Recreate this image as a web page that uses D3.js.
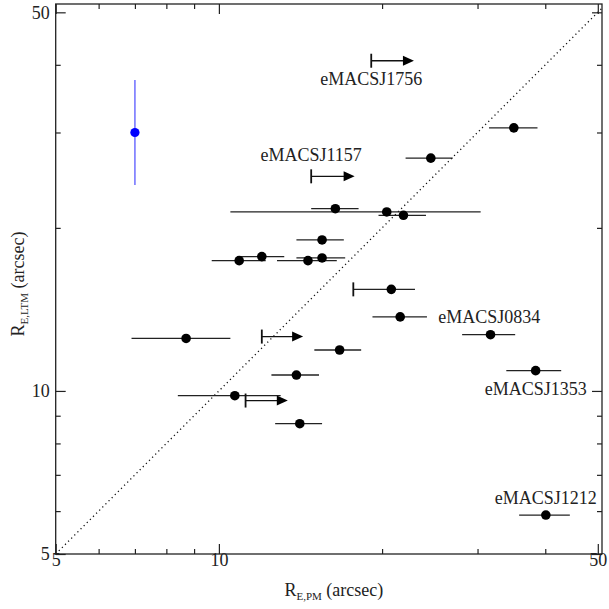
<!DOCTYPE html>
<html>
<head>
<meta charset="utf-8">
<script src="https://cdn.jsdelivr.net/npm/d3@7"></script>
<style>
  body { margin: 0; background: #fff; }
  svg text { font-family: "Liberation Serif", "DejaVu Serif", serif; fill: #222; }
</style>
</head>
<body>
<div class="chart"></div>
<script>
"use strict";
// measured points with horizontal error bars (arcsec)
var pmX  = [35.0, 24.6, 16.4, 20.4, 21.9, 15.5, 12.0, 10.9, 14.6, 15.5, 21.6, 31.7, 38.4, 16.7, 8.7, 13.9, 10.7, 14.1, 40.1];
var ltmY = [30.6, 26.9, 21.7, 21.4, 21.1, 19.0, 17.7, 17.4, 17.4, 17.6, 13.7, 12.7, 10.9, 11.9, 12.5, 10.7, 9.8, 8.7, 5.9];
var pmLo = [31.5, 22.1, 14.8, 10.5, 19.7, 13.9, 10.9, 9.7, 12.8, 13.9, 19.2, 28.1, 33.9, 15.0, 6.9, 12.5, 8.4, 12.7, 35.8];
var pmHi = [38.7, 27.0, 18.1, 30.4, 24.1, 17.0, 13.2, 12.2, 16.5, 17.1, 24.2, 35.2, 42.8, 18.3, 10.5, 15.3, 13.0, 15.5, 44.4];

// point sitting on a lower-limit bar
var capPt = {x: 20.8, y: 15.4, lo: 17.7, hi: 23.0};

// lower limits on R_E,PM (arrows)
var limX   = [19.1, 14.8, 12.0, 11.2];
var limEnd = [22.9, 17.8, 14.3, 13.4];
var limY   = [40.7, 24.9, 12.6, 9.6];

// reference point (blue), vertical error bar
var bluePt = {x: 7.0, y: 30.0, lo: 24.0, hi: 37.5};

// cluster names and the data point they annotate
var labelNames = ["eMACSJ1756", "eMACSJ1157", "eMACSJ0834", "eMACSJ1353", "eMACSJ1212"];
var labelAtX   = [19.1, 14.8, 21.6, 38.4, 40.1];
var labelAtY   = [40.7, 24.9, 13.7, 10.9, 5.9];

var majorTicks = [5, 10, 50];
var minorTicks = [6, 7, 8, 9, 20, 30, 40];

var W = 609, H = 609;
var margin = {top: 4, right: 7, bottom: 55, left: 55.7};
var width = W - margin.left - margin.right,
    height = H - margin.top - margin.bottom;

var x = d3.scaleLog().domain([5, 50.9]).range([0, width]);
var y = d3.scaleLog().domain([5, 51.8]).range([height, 0]);

var svg = d3.select(".chart").append("svg")
  .attr("width", W).attr("height", H);
var g = svg.append("g")
  .attr("transform", "translate(" + margin.left + "," + margin.top + ")");

// one-to-one line
g.append("line")
  .attr("x1", x(5)).attr("y1", y(5))
  .attr("x2", x(50.9)).attr("y2", y(50.9))
  .attr("stroke", "#111").attr("stroke-width", 1.3)
  .attr("stroke-dasharray", "1.2,3.2");

//axes with inward ticks on all four sides
function styleAxis(sel){
  sel.select(".domain").remove();
  sel.selectAll(".tick line").attr("stroke", "#222").attr("stroke-width", 1.2);
  sel.selectAll(".tick text").style("font-size", "18px")
    .style("font-family", "'Liberation Serif', serif").attr("fill", "#222");
}
function addAxes(axisFn, transform, showLabels){
  var major = g.append("g").attr("transform", transform)
    .call(axisFn().tickValues(majorTicks).tickSize(-10).tickPadding(showLabels ? 18 : 0)
      .tickFormat(showLabels ? d3.format("d") : ""));
  var minor = g.append("g").attr("transform", transform)
    .call(axisFn().tickValues(minorTicks).tickSize(-5).tickFormat(""));
  styleAxis(major); styleAxis(minor);
  return major;
}
var bx = addAxes(function(){ return d3.axisBottom(x); }, "translate(0," + height + ")", true);
bx.selectAll(".tick text").attr("dy", "0.1em").attr("y", 10);
addAxes(function(){ return d3.axisTop(x); }, "translate(0,0)", false);
var ly = addAxes(function(){ return d3.axisLeft(y); }, "translate(0,0)", true);
ly.selectAll(".tick text").attr("x", -6);
addAxes(function(){ return d3.axisRight(y); }, "translate(" + width + ",0)", false);

g.append("rect")
  .attr("x", 0).attr("y", 0).attr("width", width).attr("height", height)
  .attr("fill", "none").attr("stroke", "#222").attr("stroke-width", 1.3);

// error bars
var pts = pmX.map(function(d, i){ return {x: d, y: ltmY[i], lo: pmLo[i], hi: pmHi[i]}; });
g.selectAll(".errBar").data(pts.concat([capPt])).enter().append("line")
  .attr("class", "errBar")
  .attr("x1", function(d){ return x(d.lo); })
  .attr("x2", function(d){ return x(d.hi); })
  .attr("y1", function(d){ return y(d.y); })
  .attr("y2", function(d){ return y(d.y); })
  .attr("stroke", "#222").attr("stroke-width", 1.3);

// cap for the bar-limited point
g.append("line")
  .attr("x1", x(capPt.lo)).attr("x2", x(capPt.lo))
  .attr("y1", y(capPt.y) - 7).attr("y2", y(capPt.y) + 7)
  .attr("stroke", "#111").attr("stroke-width", 1.8);

g.selectAll(".dot").data(pts.concat([capPt])).enter().append("circle")
  .attr("class", "dot")
  .attr("cx", function(d){ return x(d.x); })
  .attr("cy", function(d){ return y(d.y); })
  .attr("r", 4.8).attr("fill", "#000");

// lower limits
var lims = limX.map(function(d, i){ return {x: d, end: limEnd[i], y: limY[i]}; });
var limG = g.selectAll(".lim").data(lims).enter().append("g").attr("class", "lim");
limG.append("line")
  .attr("x1", function(d){ return x(d.x); })
  .attr("x2", function(d){ return x(d.end) - 8; })
  .attr("y1", function(d){ return y(d.y); })
  .attr("y2", function(d){ return y(d.y); })
  .attr("stroke", "#111").attr("stroke-width", 1.3);
limG.append("line")
  .attr("x1", function(d){ return x(d.x); })
  .attr("x2", function(d){ return x(d.x); })
  .attr("y1", function(d){ return y(d.y) - 7; })
  .attr("y2", function(d){ return y(d.y) + 7; })
  .attr("stroke", "#111").attr("stroke-width", 1.8);
limG.append("path")
  .attr("d", function(d){
    var tx = x(d.end), ty = y(d.y);
    return "M" + tx + "," + ty + "L" + (tx - 11) + "," + (ty - 5) + "L" + (tx - 11) + "," + (ty + 5) + "Z";
  })
  .attr("fill", "#000");

// blue point
g.append("line")
  .attr("x1", x(bluePt.x)).attr("x2", x(bluePt.x))
  .attr("y1", y(bluePt.lo)).attr("y2", y(bluePt.hi))
  .attr("stroke", "#7777ff").attr("stroke-width", 1.6);
g.append("circle")
  .attr("cx", x(bluePt.x)).attr("cy", y(bluePt.y))
  .attr("r", 4.6).attr("fill", "#0000ff");

// labels (offsets in px from the annotated point)
var labelDx = [0, 0, 38, 0, 0],
    labelDy = [24, -15, 6, 24, -11],
    labelAnchor = ["middle", "middle", "start", "middle", "middle"];
g.selectAll(".name").data(labelNames).enter().append("text")
  .attr("class", "name")
  .attr("x", function(d, i){ return x(labelAtX[i]) + labelDx[i]; })
  .attr("y", function(d, i){ return y(labelAtY[i]) + labelDy[i]; })
  .attr("text-anchor", function(d, i){ return labelAnchor[i]; })
  .style("font-size", "18px")
  .text(function(d){ return d; });

// axis titles
var xt = svg.append("text")
  .attr("x", margin.left + width / 2 + 5).attr("y", 596)
  .attr("text-anchor", "middle").style("font-size", "18px");
xt.append("tspan").text("R");
xt.append("tspan").attr("baseline-shift", "-4").style("font-size", "11px").text("E,PM");
xt.append("tspan").text(" (arcsec)");

var yt = svg.append("text")
  .attr("transform", "translate(24," + (margin.top + height / 2 + 5) + ") rotate(-90)")
  .attr("text-anchor", "middle").style("font-size", "18px");
yt.append("tspan").text("R");
yt.append("tspan").attr("baseline-shift", "-4").style("font-size", "11px").text("E,LTM");
yt.append("tspan").text(" (arcsec)");
</script>
</body>
</html>
